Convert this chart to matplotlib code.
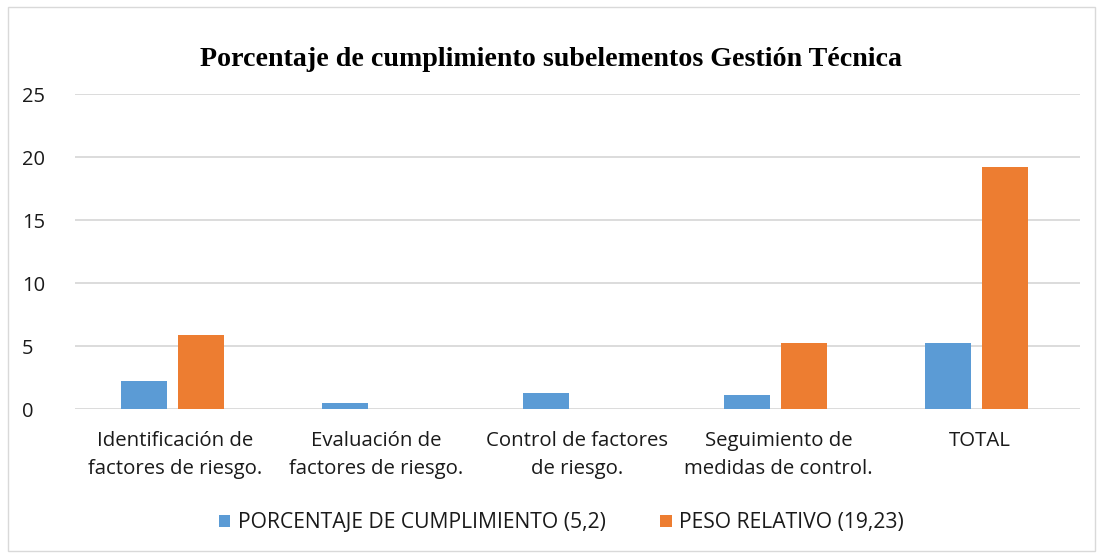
import matplotlib
matplotlib.use("Agg")
import matplotlib.pyplot as plt
import numpy as np
from matplotlib.patches import Rectangle

categories = ["Identificación de\nfactores de riesgo.", "Evaluación de\nfactores de riesgo.",
              "Control de factores\nde riesgo.", "Seguimiento de\nmedidas de control.", "TOTAL"]
cumplimiento = [2.2, 0.5, 1.3, 1.1, 5.2]
peso_relativo = [5.9, 0, 0, 5.2, 19.23]
series_names = ["PORCENTAJE DE CUMPLIMIENTO (5,2)", "PESO RELATIVO (19,23)"]
yticks = [0, 5, 10, 15, 20, 25]

blue = "#5b9bd5"
orange = "#ed7d31"
txt = "#1a1a1a"

plt.rcParams['font.family'] = ['Open Sans', 'DejaVu Sans']

fig = plt.figure(figsize=(11.03, 5.58), dpi=100)
ax = fig.add_axes([0.068, 0.267, 0.911, 0.5645])

x = np.arange(len(categories))
w = 0.23
ax.bar(x - 0.157, cumplimiento, w, color=blue, label=series_names[0], zorder=3)
ax.bar(x + 0.127, peso_relativo, w, color=orange, label=series_names[1], zorder=3)

ax.set_xlim(-0.5, len(categories) - 0.5)
ax.set_ylim(0, 25)
ax.set_yticks(yticks)
ax.set_xticks(x)
ax.set_xticklabels(categories, fontsize=14.7, color=txt, linespacing=1.55)
ax.tick_params(axis='y', labelsize=14.5, labelcolor=txt, length=0, pad=38)
ax.tick_params(axis='x', length=0, pad=16)
for lab in ax.get_yticklabels():
    lab.set_horizontalalignment('left')
ax.grid(axis='y', color="#d9d9d9", linewidth=1.3, zorder=0)
for s in ax.spines.values():
    s.set_visible(False)

fig.text(0.5, 0.893, "Porcentaje de cumplimiento subelementos Gestión Técnica",
         ha='center', va='center', fontsize=20.2, fontweight='bold', color='black',
         family=['Liberation Serif', 'DejaVu Serif'])

fig.legend(loc='center', bbox_to_anchor=(0.509, 0.063), ncol=2, frameon=False,
           fontsize=15.2, handlelength=0.55, handleheight=0.55, columnspacing=2.6,
           handletextpad=0.35, labelcolor=txt)

fig.patches.append(Rectangle((0.007, 0.012), 0.986, 0.976, transform=fig.transFigure,
                             fill=False, edgecolor="#d9d9d9", linewidth=1))

fig.savefig("out.png", dpi=100)
